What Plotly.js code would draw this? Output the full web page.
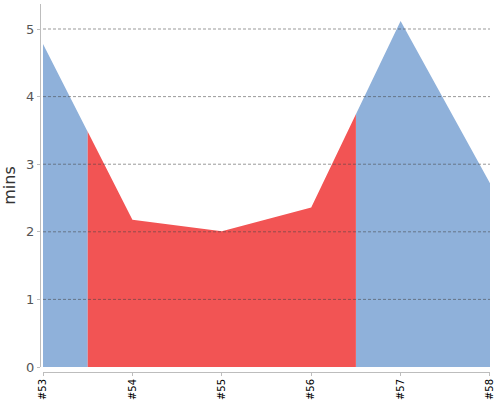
<!DOCTYPE html>
<html>
<head>
<meta charset="utf-8">
<script src="https://cdn.plot.ly/plotly-3.0.1.min.js"></script>
<style>
  html, body { margin:0; padding:0; background:#fff; }
  #chart { width:500px; height:400px; }
</style>
</head>
<body>
<div id="chart"></div>
<script>
// ── Data ──────────────────────────────────────────────────────────────────────
const builds   = ['#53', '#54', '#55', '#56', '#57', '#58'];
const durMins  = [4.78, 2.18, 2.01, 2.36, 5.12, 2.72];
const status   = ['ok', 'fail', 'fail', 'fail', 'ok', 'ok'];
const yTicks   = [0, 1, 2, 3, 4, 5];

// ── Style ─────────────────────────────────────────────────────────────────────
const BLUE = '#8fb1da', RED = '#f25454';
const AXCOL = '#bdbdbd';
const FONT = 'DejaVu Sans, sans-serif';

// x domain: small gap between y axis line and first build
const XD0 = 0.0067, XD1 = 1;
const XMAX = builds.length - 1;

// failing span: half a step either side of the failed builds
const failIdx = status.map((s, i) => s === 'fail' ? i : -1).filter(i => i >= 0);
const fLo = failIdx[0] - 0.5, fHi = failIdx[failIdx.length - 1] + 0.5;
const toDom = v => XD0 + (v / XMAX) * (XD1 - XD0);

const traces = [
  { x: builds, y: durMins, type: 'scatter', mode: 'lines', fill: 'tozeroy',
    fillcolor: BLUE, line: { width: 0, color: BLUE }, hoverinfo: 'skip', showlegend: false },
  // same series, clipped to the failing span by its own x axis domain
  { x: builds, y: durMins, type: 'scatter', mode: 'lines', fill: 'tozeroy',
    xaxis: 'x2', yaxis: 'y',
    fillcolor: RED, line: { width: 0, color: RED }, hoverinfo: 'skip', showlegend: false },
];

// ── Gridlines above the fills ─────────────────────────────────────────────────
const shapes = yTicks.filter(v => v > 0).map(v => ({
  type: 'line', layer: 'above', xref: 'x domain', yref: 'y',
  x0: 0, x1: 1, y0: v, y1: v,
  line: { color: 'rgba(70,70,70,0.55)', width: 1, dash: '3px,2px' },
}));

Plotly.newPlot('chart', traces, {
  width: 500, height: 400,
  paper_bgcolor: '#fff', plot_bgcolor: '#fff',
  margin: { t: 4, r: 10, b: 28, l: 40 },
  font: { family: FONT, color: '#444', size: 13 },
  showlegend: false,
  xaxis: {
    type: 'category', categoryorder: 'array', categoryarray: builds,
    domain: [XD0, XD1], range: [0, XMAX], anchor: 'free', position: 0,
    showgrid: false, zeroline: false,
    showline: true, linecolor: AXCOL, linewidth: 1,
    ticks: 'outside', ticklen: 3, tickcolor: AXCOL,
    tickangle: -90, ticklabelstandoff: -1,
    tickfont: { size: 10, color: '#000', family: FONT },
  },
  xaxis2: {
    type: 'category', categoryorder: 'array', categoryarray: builds,
    domain: [toDom(fLo), toDom(fHi)], range: [fLo, fHi], anchor: 'y',
    visible: false, showgrid: false, zeroline: false,
  },
  yaxis: {
    domain: [5 / 368, 1], range: [0, 5.37], anchor: 'free', position: 0,
    tickvals: yTicks, showgrid: false, zeroline: false,
    showline: true, linecolor: AXCOL, linewidth: 1,
    ticks: 'outside', ticklen: 3, tickcolor: AXCOL,
    tickfont: { size: 13, color: '#555', family: FONT },
    title: { text: 'mins', standoff: 8, font: { size: 16, color: '#333', family: FONT } },
  },
  shapes,
}, { displayModeBar: false, staticPlot: true });
</script>
</body>
</html>
